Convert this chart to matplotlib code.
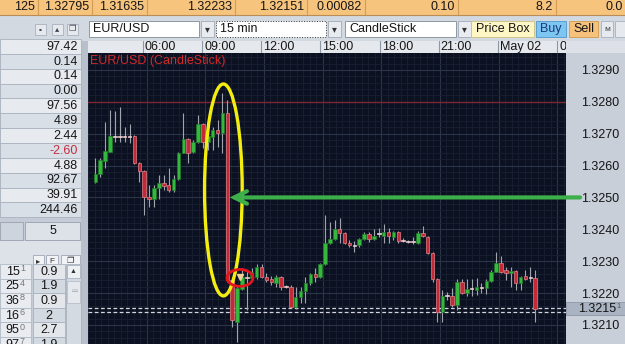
import numpy as np
import matplotlib
matplotlib.use("Agg")
import matplotlib.pyplot as plt
from matplotlib.patches import Rectangle, Ellipse

plt.rcParams['font.family'] = ['Liberation Sans', 'DejaVu Sans']

# ---------------- data ----------------
symbol = "EUR/USD"
interval = "15 min"
chart_type = "CandleStick"

opens = [1.32549, 1.32574, 1.32615, 1.32643, 1.32693, 1.32690, 1.32692, 1.32690, 1.32693, 1.32608,
         1.32583, 1.32502, 1.32495, 1.32530, 1.32545, 1.32539, 1.32524, 1.32558, 1.32640, 1.32684,
         1.32643, 1.32674, 1.32731, 1.32674, 1.32690, 1.32712, 1.32702, 1.32765, 1.32241, 1.32109,
         1.32213, 1.32251, 1.32248, 1.32251, 1.32282, 1.32251, 1.32244, 1.32232, 1.32251, 1.32219,
         1.32219, 1.32156, 1.32188, 1.32207, 1.32232, 1.32260, 1.32251, 1.32291, 1.32357, 1.32370,
         1.32401, 1.32389, 1.32357, 1.32349, 1.32351, 1.32370, 1.32386, 1.32370, 1.32386, 1.32380,
         1.32392, 1.32376, 1.32392, 1.32367, 1.32364, 1.32361, 1.32357, 1.32389, 1.32376, 1.32326,
         1.32244, 1.32141, 1.32191, 1.32191, 1.32163, 1.32235, 1.32200, 1.32213, 1.32210, 1.32219,
         1.32216, 1.32238, 1.32266, 1.32295, 1.32273, 1.32263, 1.32270, 1.32232, 1.32254, 1.32247,
         1.32247]
highs = [1.32624, 1.32624, 1.32737, 1.32774, 1.32771, 1.32784, 1.32721, 1.32731, 1.32695, 1.32610,
         1.32585, 1.32539, 1.32539, 1.32571, 1.32571, 1.32593, 1.32571, 1.32642, 1.32765, 1.32686,
         1.32680, 1.32759, 1.32733, 1.32718, 1.32721, 1.32743, 1.32828, 1.32806, 1.32247, 1.32226,
         1.32279, 1.32273, 1.32279, 1.32291, 1.32291, 1.32263, 1.32254, 1.32257, 1.32253, 1.32226,
         1.32226, 1.32219, 1.32219, 1.32251, 1.32263, 1.32279, 1.32294, 1.32445, 1.32423, 1.32429,
         1.32436, 1.32392, 1.32367, 1.32364, 1.32373, 1.32392, 1.32392, 1.32401, 1.32404, 1.32417,
         1.32404, 1.32395, 1.32395, 1.32373, 1.32367, 1.32376, 1.32395, 1.32411, 1.32380, 1.32329,
         1.32247, 1.32210, 1.32204, 1.32216, 1.32244, 1.32244, 1.32244, 1.32244, 1.32247, 1.32232,
         1.32244, 1.32273, 1.32329, 1.32316, 1.32282, 1.32282, 1.32273, 1.32254, 1.32273, 1.32282,
         1.32273]
lows = [1.32545, 1.32564, 1.32593, 1.32643, 1.32674, 1.32674, 1.32674, 1.32671, 1.32605, 1.32549,
        1.32445, 1.32470, 1.32470, 1.32495, 1.32524, 1.32517, 1.32517, 1.32555, 1.32638, 1.32608,
        1.32640, 1.32672, 1.32655, 1.32649, 1.32649, 1.32658, 1.32640, 1.32235, 1.32094, 1.32047,
        1.32210, 1.32147, 1.32241, 1.32244, 1.32248, 1.32235, 1.32226, 1.32219, 1.32210, 1.32216,
        1.32153, 1.32150, 1.32169, 1.32169, 1.32226, 1.32235, 1.32248, 1.32288, 1.32355, 1.32367,
        1.32357, 1.32354, 1.32345, 1.32329, 1.32345, 1.32367, 1.32361, 1.32367, 1.32376, 1.32357,
        1.32357, 1.32367, 1.32357, 1.32361, 1.32357, 1.32354, 1.32354, 1.32376, 1.32323, 1.32235,
        1.32109, 1.32109, 1.32178, 1.32156, 1.32147, 1.32197, 1.32191, 1.32191, 1.32194, 1.32200,
        1.32197, 1.32235, 1.32266, 1.32263, 1.32241, 1.32219, 1.32210, 1.32210, 1.32241, 1.32235,
        1.32109]
closes = [1.32574, 1.32618, 1.32646, 1.32693, 1.32690, 1.32691, 1.32690, 1.32693, 1.32608, 1.32583,
          1.32502, 1.32495, 1.32530, 1.32545, 1.32536, 1.32524, 1.32558, 1.32640, 1.32684, 1.32640,
          1.32674, 1.32731, 1.32674, 1.32693, 1.32712, 1.32702, 1.32765, 1.32241, 1.32116, 1.32216,
          1.32251, 1.32248, 1.32266, 1.32282, 1.32251, 1.32241, 1.32235, 1.32251, 1.32219, 1.32220,
          1.32156, 1.32188, 1.32207, 1.32232, 1.32260, 1.32251, 1.32291, 1.32357, 1.32370, 1.32401,
          1.32389, 1.32357, 1.32351, 1.32347, 1.32370, 1.32386, 1.32370, 1.32380, 1.32385, 1.32392,
          1.32380, 1.32392, 1.32364, 1.32364, 1.32361, 1.32360, 1.32389, 1.32380, 1.32326, 1.32244,
          1.32141, 1.32191, 1.32194, 1.32163, 1.32235, 1.32200, 1.32213, 1.32214, 1.32219, 1.32216,
          1.32238, 1.32266, 1.32295, 1.32266, 1.32263, 1.32270, 1.32232, 1.32251, 1.32244, 1.32246,
          1.32151]

time_tick_pos = [10.5, 22.5, 34.5, 46.5, 58.5, 70.5, 82.5, 94.5]
time_tick_labels = ["06:00", "09:00", "12:00", "15:00", "18:00", "21:00", "May 02", "0"]
price_ticks = [1.3210, 1.3220, 1.3230, 1.3240, 1.3250, 1.3260, 1.3270, 1.3280, 1.3290]
resistance_level = 1.3280
bid_ask_lines = [1.32153, 1.32140]
last_price = 1.32151
arrow_level = 1.3250
marker_time, marker_price = 29.6, 1.32250
spike_center = (26.2, 1.325235)

quote_bar = ["125", "1.32795", "1.31635", "1.32233", "1.32151", "0.00082", "0.10", "8.2", "0.0"]
side_values = ["97.42", "0.14", "0.14", "0.00", "97.56", "4.89", "2.44", "-2.60",
               "4.88", "92.67", "39.91", "244.46"]
book_prices = ["15", "25", "36", "16", "95", "97"]
book_pips = ["1", "4", "8", "6", "0", "7"]
book_sizes = ["0.9", "1.9", "0.9", "2", "2.7", "1.9"]

# ---------------- figure ----------------
W, H = 625, 344
fig = plt.figure(figsize=(W / 100, H / 100), dpi=100)
ui = fig.add_axes([0, 0, 1, 1], zorder=0)
ui.set_xlim(0, W)
ui.set_ylim(H, 0)
ui.axis('off')


def box(x0, y0, x1, y1, fc, ec='none', lw=0.8, z=1, ls='-'):
    ui.add_patch(Rectangle((x0, y0), x1 - x0, y1 - y0, fc=fc, ec=ec, lw=lw, zorder=z, ls=ls))


def txt(x, y, s, ha='left', size=9, color='#151515', **kw):
    ui.text(x, y, s, ha=ha, va='center', fontsize=size, color=color, zorder=5, **kw)


# overall background
box(0, 0, W, H, '#c4ccd7', z=0)

# top quote bar
box(0, 0, W, 14.5, '#f7c47e', z=1)
seps = [38, 92, 147, 235, 307, 365, 458, 556]
for s in seps:
    ui.plot([s, s], [0, 14.5], color='#d29d57', lw=0.8, zorder=2)
ui.plot([0, W], [14.5, 14.5], color='#b98d55', lw=0.8, zorder=2)
for s, v in zip(seps, quote_bar[:-1]):
    txt(s - 3, 7.3, v, ha='right')
txt(605, 7.3, quote_bar[-1])

# toolbar
box(0, 15, W, 40.5, '#d3d9e1', z=1)
for x0 in [35, 52, 67]:
    box(x0, 24, x0 + 11, 35, '#e6e9ee', '#a9b1bc', lw=0.6, z=2)
txt(40.5, 29.5, '▪', ha='center', size=6, color='#445')
txt(57.5, 29.5, '▴', ha='center', size=6, color='#445')
txt(72.5, 29.5, '❐', ha='center', size=6, color='#445')

combos = [(89, 199, symbol), (216, 326, interval), (345, 456, chart_type)]
for i, (a, b, s) in enumerate(combos):
    box(a, 21, b, 37, '#ffffff', '#8e97a4' if i != 1 else '#333333', lw=0.7, z=2,
        ls='-' if i != 1 else ':')
    txt(a + 4, 29.3, s)
    box(b + 2, 21, b + 15, 37, '#e8ebef', '#a3abb6', lw=0.6, z=2)
    txt(b + 8.5, 29.5, '▾', ha='center', size=7, color='#333')
box(471, 21, 534, 37, '#fff6c6', '#cfc48c', lw=0.7, z=2)
txt(502.5, 29.3, 'Price Box', ha='center')
box(536, 21, 566, 37, '#7dc6f1', '#5b9fd0', lw=0.7, z=2)
txt(551, 29.3, 'Buy', ha='center', color='#1b3a78')
box(569, 21, 598, 37, '#f6c17a', '#d5a15c', lw=0.7, z=2)
txt(583.5, 29.3, 'Sell', ha='center')
box(601, 21, 613, 37, '#e6e9ee', '#a9b1bc', lw=0.6, z=2)
txt(607, 29.3, 'м', ha='center', size=6, color='#444')
box(615, 21, 627, 37, '#e6e9ee', '#a9b1bc', lw=0.6, z=2)

# left panel value rows
row_top, row_h = 39.0, 14.85
for k, v in enumerate(side_values):
    y0 = row_top + k * row_h
    box(0, y0, 81, y0 + row_h, '#e7ebf0' if k % 2 == 0 else '#d9dfe6', '#a9b2be', lw=0.6, z=2)
    txt(78, y0 + row_h / 2 + 0.3, v, ha='right', color='#c03040' if v.startswith('-') else '#151515')

# tabs
box(0, 222, 23, 240, '#cdd4dd', '#9fa8b4', lw=0.7, z=2)
box(25, 222, 80, 240, '#dde2e8', '#9fa8b4', lw=0.7, z=2)
txt(52.5, 231, '5', ha='center')
# small toolbar of the book
box(0, 241, 81, 264, '#dde2e8', z=1)
for (a, b, g) in [(33, 44, '▸'), (46, 58, 'F'), (61, 80, '❐')]:
    box(a, 255, b, 268, '#f1f3f6', '#9ea7b3', lw=0.6, z=2)
    txt((a + b) / 2, 261.5, g, ha='center', size=6, color='#333')

# order book rows
bk_top, bk_h = 264.0, 14.6
for k in range(len(book_prices)):
    y0 = bk_top + k * bk_h
    box(0, y0, 31, y0 + bk_h, '#e8ebf0', '#b3bbc6', lw=0.6, z=2)
    box(33, y0, 65, y0 + bk_h, '#e3e7ec' if k % 2 == 0 else '#d3d9e0', '#a9b2be', lw=0.6, z=2)
    txt(19.5, y0 + bk_h / 2 + 0.5, book_prices[k], ha='right')
    ui.text(20, y0 + bk_h / 2 - 2.5, book_pips[k], ha='left', va='center', fontsize=6.5,
            color='#777777', zorder=5)
    txt(49, y0 + bk_h / 2 + 0.5, book_sizes[k], ha='center')
box(66, 264, 81, 344, '#d4dae1', '#a9b2be', lw=0.6, z=2)
box(67, 265, 80, 278, '#eef1f4', '#a9b2be', lw=0.6, z=3)
txt(73.5, 271.5, '▲', ha='center', size=5, color='#333')
box(67, 281, 80, 303, '#e5e9ee', '#b7bfc9', lw=0.6, z=3)
txt(73.5, 292, '═', ha='center', size=6, color='#9aa3ae')

# strip between panel and chart
box(81, 40.5, 88, H, '#b7c0cb', z=1)
# price axis panel and its header
box(566, 53, W, H, '#c8cfd9', z=1)
box(566, 40.5, W, 53, '#dde1e7', z=1)

# ---------------- time header ----------------
xlo, xhi = -0.65, 96.3
hax = fig.add_axes([88 / W, 1 - 53 / H, 478 / W, 12.5 / H], zorder=2)
hax.set_facecolor('#e5e8ed')
hax.set_xlim(xlo, xhi)
hax.set_ylim(0, 1)
hax.set_xticks([])
hax.set_yticks([])
for sp in hax.spines.values():
    sp.set_visible(False)
for p, lab in zip(time_tick_pos, time_tick_labels):
    hax.axvline(p, color='#8f99a6', lw=0.8)
    hax.text(p + 0.4, 0.45, lab, ha='left', va='center', fontsize=9, color='#151515', clip_on=True)

# ---------------- chart ----------------
ax = fig.add_axes([88 / W, 0, 478 / W, 291 / H], zorder=3)
ax.set_facecolor('#0b1120')
ax.set_xlim(xlo, xhi)
ax.set_ylim(1.320404, 1.329533)
for sp in ax.spines.values():
    sp.set_visible(False)

ax.set_xticks(time_tick_pos)
ax.set_xticks(np.arange(time_tick_pos[0] - 12, xhi, 12 / 9), minor=True)
ax.set_yticks(price_ticks)
ax.set_yticks(np.arange(1.3204, 1.3296, 0.0002), minor=True)
ax.yaxis.tick_right()
ax.set_yticklabels([f"{p:.4f}" for p in price_ticks])
ax.tick_params(axis='x', which='both', length=0, labelbottom=False)
ax.tick_params(axis='y', which='both', length=0, pad=10.5, labelsize=9, labelcolor='#151515')
ax.grid(True, which='minor', color='#172033', lw=0.6)
ax.grid(True, which='major', color='#2b3549', lw=0.8)
ax.set_axisbelow(True)

o = np.array(opens)
c = np.array(closes)
h = np.array(highs)
l = np.array(lows)
x = np.arange(len(o))
up = c - o > 0.00004
dn = o - c > 0.00004
dj = ~(up | dn)
bottom = np.minimum(o, c)
height = np.maximum(np.abs(c - o), 0.00003)

ax.vlines(x, l, h, color='#a0a4ad', lw=0.8, zorder=3)
ax.bar(x[up], height[up], bottom=bottom[up], width=0.72, color='#36b83e',
       edgecolor='#1e7d27', lw=0.5, zorder=4)
ax.bar(x[dn], height[dn], bottom=bottom[dn], width=0.72, color='#c42a35',
       edgecolor='#e0808a', lw=0.5, zorder=4)
ax.bar(x[dj], height[dj], bottom=bottom[dj], width=0.72, color='#e6e6e6',
       edgecolor='#f0c8cc', lw=0.5, zorder=4)

ax.axhline(resistance_level, color='#7a2633', lw=1.0, zorder=2.5)
for lv in bid_ask_lines:
    ax.axhline(lv, color='#d4d8de', lw=0.9, ls=(0, (3, 2)), zorder=2.6)

ax.text(0.004, 0.994, f"{symbol} ({chart_type})", transform=ax.transAxes, ha='left', va='top',
        fontsize=9, color='#d42a2a', zorder=8)

# annotations
ax.add_patch(Ellipse(spike_center, 7.7, 0.00665, fill=False, ec='#f4ee10', lw=2.4, zorder=6))
ax.add_patch(Ellipse((marker_time, 1.322475), 5.3, 0.00053, fill=False, ec='#e3141c', lw=2.0, zorder=7))
ax.plot([marker_time], [marker_price], marker='v', ms=5, color='#f0d29a', zorder=7.5)

ann = ax.annotate('', xy=(27.5, arrow_level), xycoords='data',
                  xytext=(1.0293, arrow_level), textcoords=ax.get_yaxis_transform(),
                  arrowprops=dict(arrowstyle='->,head_length=0.9,head_width=0.45',
                                  color='#3cae4a', lw=3.0, shrinkA=0, shrinkB=0,
                                  capstyle='round', joinstyle='miter'),
                  annotation_clip=False, zorder=9)
ann.arrow_patch.set_clip_on(False)

# current price box on the axis
tr = ax.get_yaxis_transform()
ax.add_patch(Rectangle((1.0, last_price - 0.00021), 59 / 478, 0.00042, transform=tr,
                       fc='#a9b3c1', ec='#8c97a7', lw=0.6, clip_on=False, zorder=10))
ax.text(1 + 12 / 478, last_price - 0.00002, f"{last_price:.5f}"[:-1], transform=tr, ha='left',
        va='center', fontsize=9, color='#151515', clip_on=False, zorder=11)
ax.text(1 + 50 / 478, last_price + 0.00008, f"{last_price:.5f}"[-1], transform=tr, ha='left',
        va='center', fontsize=5.5, color='#555555', clip_on=False, zorder=11)

fig.savefig("out.png", dpi=100)
